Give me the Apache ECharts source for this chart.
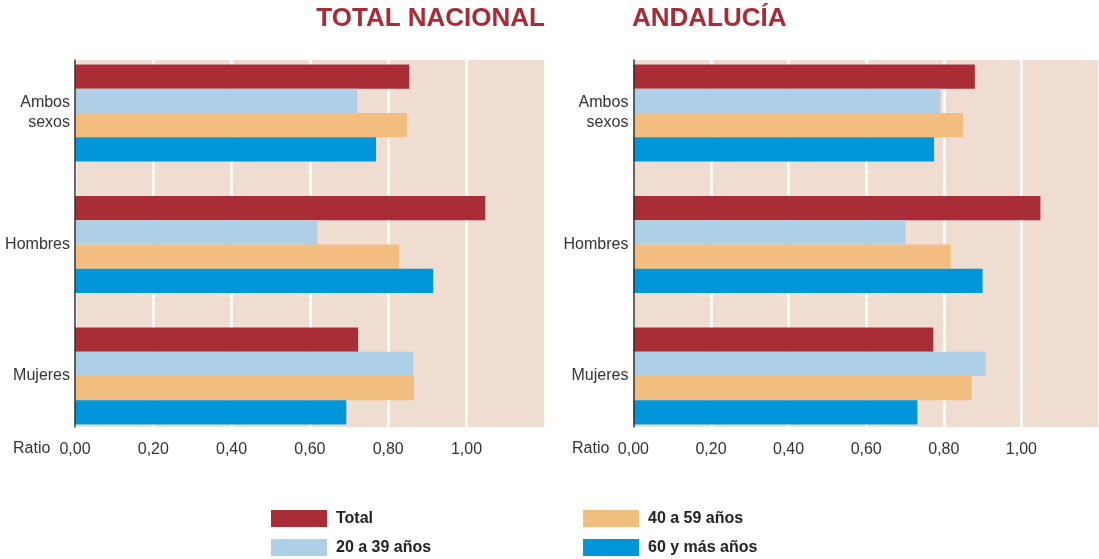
<!DOCTYPE html>
<html>
<head>
<meta charset="utf-8">
<script src="https://cdn.jsdelivr.net/npm/echarts@6/dist/echarts.min.js"></script>
<style>
    html, body { margin: 0; padding: 0; background: #fff; }
    #chart { width: 1099px; height: 559px; }
</style>
</head>
<body>
<div id="chart"></div>
<script>
const categories = ['Ambos\nsexos', 'Hombres', 'Mujeres']
const seriesNames = ['Total', '20 a 39 años', '40 a 59 años', '60 y más años']
const colors = ['#a92d36', '#aed0e6', '#f2be80', '#0096d9']

// ratios por grupo de edad: Ambos sexos, Hombres, Mujeres
const nacional = {
    total: [0.854, 1.048, 0.723],
    edad20a39: [0.721, 0.619, 0.864],
    edad40a59: [0.848, 0.828, 0.866],
    edad60mas: [0.769, 0.915, 0.693]
}
const andalucia = {
    total: [0.880, 1.049, 0.773],
    edad20a39: [0.791, 0.701, 0.908],
    edad40a59: [0.850, 0.818, 0.872],
    edad60mas: [0.775, 0.900, 0.732]
}

const FONT = '"Liberation Sans", Arial, sans-serif'

let myChart = echarts.init(document.getElementById('chart'))

const panels = [
    { left: 75, data: nacional },
    { left: 633.4, data: andalucia }
]
const plotWidth = 469.8

let grid = []
let xAxis = []
let yAxis = []
let series = []

panels.forEach((p, i) => {
    // fondo con las líneas de la escala
    grid.push({ left: p.left, top: 60, width: plotWidth, height: 367, show: true, backgroundColor: '#efddd2', borderWidth: 0 })
    // barras
    grid.push({ left: p.left, top: 47.25, width: plotWidth, height: 394.5 })

    xAxis.push({
        gridIndex: i * 2, type: 'value', min: 0, max: 1.2, interval: 0.2,
        axisLine: { show: false }, axisTick: { show: false },
        splitLine: { show: true, lineStyle: { color: '#ffffff', width: 2.5 } },
        axisLabel: {
            showMaxLabel: false, margin: 15, color: '#333', fontSize: 16,
            fontFamily: FONT,
            formatter: v => v.toFixed(2).replace('.', ',')
        }
    })
    xAxis.push({ gridIndex: i * 2 + 1, type: 'value', min: 0, max: 1.2, show: false })

    yAxis.push({
        gridIndex: i * 2, type: 'value', min: 0, max: 1, z: 5,
        axisLine: { show: true, lineStyle: { color: '#333', width: 1.5 } },
        axisTick: { show: false }, axisLabel: { show: false }, splitLine: { show: false }
    })
    yAxis.push({
        gridIndex: i * 2 + 1, type: 'category', inverse: true, data: categories,
        axisLine: { show: false }, axisTick: { show: false },
        axisLabel: {
            margin: 5, color: '#333', fontSize: 16, lineHeight: 20,
            fontFamily: FONT, align: 'right', padding: [4, 0, 0, 0]
        }
    })

    const values = [p.data.total, p.data.edad20a39, p.data.edad40a59, p.data.edad60mas]
    values.forEach((v, k) => {
        series.push({
            name: seriesNames[k], type: 'bar', xAxisIndex: i * 2 + 1, yAxisIndex: i * 2 + 1,
            data: v, barWidth: 24.3, barGap: '0%', itemStyle: { color: colors[k] },
            silent: true
        })
    })
})

const legendText = { color: '#222', fontSize: 16, fontWeight: 'bold', fontFamily: FONT, padding: [0, 0, 0, 4] }
const titleText = { color: '#a82c35', fontSize: 26, fontWeight: 'bold', fontFamily: FONT }
const ratioText = { color: '#333', fontSize: 16, fontWeight: 'normal', fontFamily: FONT }

let option = {
    animation: false,
    color: colors,
    title: [
        { text: 'TOTAL NACIONAL', right: 554, top: 6, padding: 0, textStyle: titleText },
        { text: 'ANDALUCÍA', left: 632, top: 6, padding: 0, textStyle: titleText },
        { text: 'Ratio', left: 13, top: 441, padding: 0, textStyle: ratioText },
        { text: 'Ratio', left: 572, top: 441, padding: 0, textStyle: ratioText }
    ],
    legend: [
        {
            data: ['Total', '20 a 39 años'], orient: 'vertical', left: 271, top: 510, padding: 0,
            itemWidth: 56, itemHeight: 17, itemGap: 12, icon: 'rect', textStyle: legendText,
            selectedMode: false
        },
        {
            data: ['40 a 59 años', '60 y más años'], orient: 'vertical', left: 583, top: 510, padding: 0,
            itemWidth: 56, itemHeight: 17, itemGap: 12, icon: 'rect', textStyle: legendText,
            selectedMode: false
        }
    ],
    grid: grid,
    xAxis: xAxis,
    yAxis: yAxis,
    series: series
}
myChart.setOption(option)

window.addEventListener('resize', () => {
    myChart.resize()
})
</script>
</body>
</html>
